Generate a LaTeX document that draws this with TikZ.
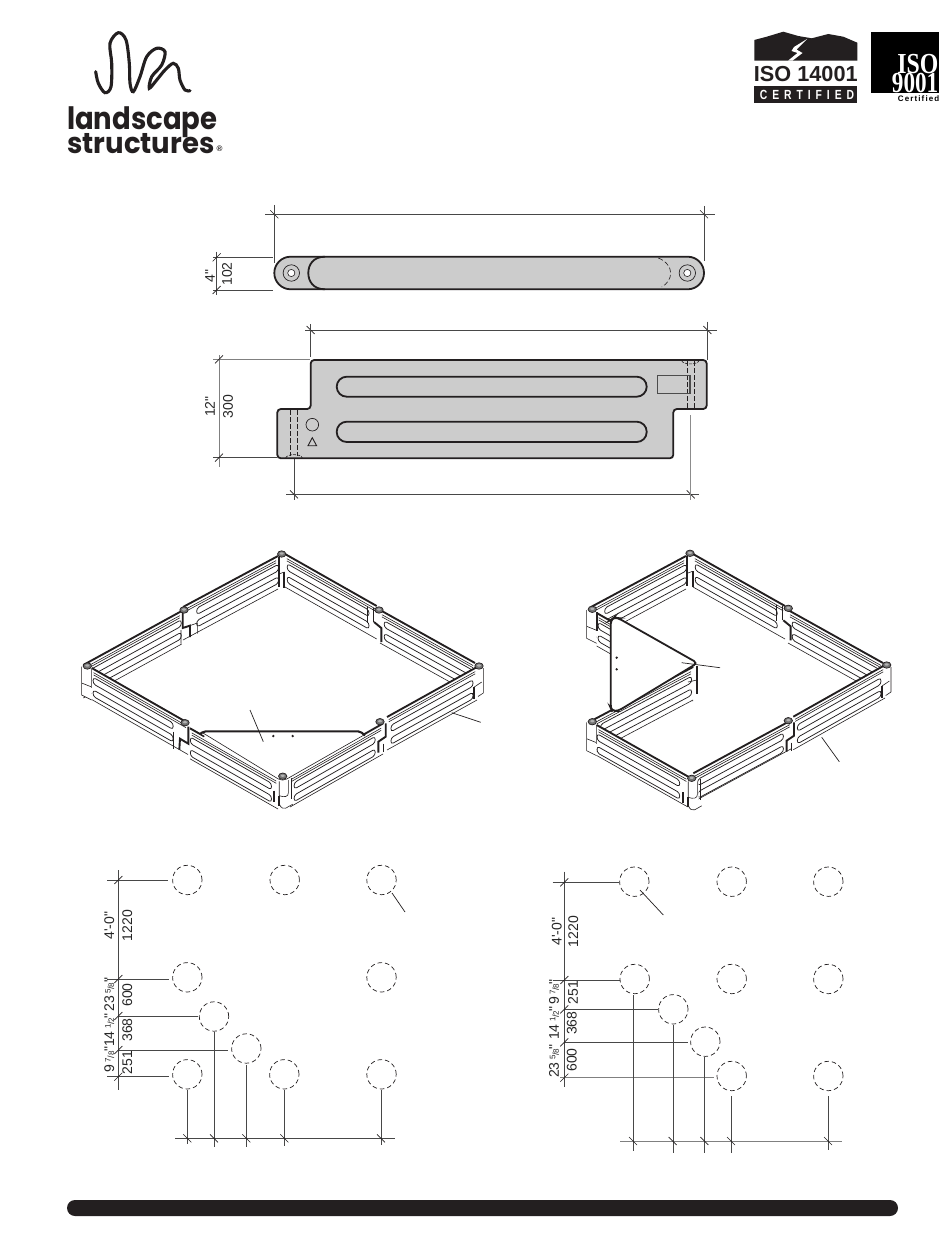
\documentclass[tikz,border=0pt]{standalone}
\usepackage{fontspec}
\setmainfont{Liberation Sans}
\newfontfamily\dimf{Liberation Sans}
\newfontfamily\isof{Liberation Sans}[BoldFont={Liberation Sans Bold}]
\newfontfamily\serf{Liberation Serif}[BoldFont={Liberation Serif Bold}]
\newfontfamily\logof{Poppins}[BoldFont={Poppins Bold}]
\definecolor{ink}{HTML}{231F20}
\definecolor{plate}{HTML}{CCCCCC}
\tikzset{
  dimline/.style={draw=black!72,line width=.65pt},
  outl/.style={draw=ink,line width=1.8pt,fill=plate},
  outb/.style={draw=ink,line width=1.8pt},
  hid/.style={draw=ink,line width=.8pt,dash pattern=on 4.5pt off 2.5pt},
  foot/.style={draw=ink,line width=.7pt,dash pattern=on 4.5pt off 3pt},
  thn/.style={draw=ink,line width=.6pt},
  thk/.style={draw=ink,line width=1.9pt},
  lbl/.style={inner sep=0pt,rotate=90,font=\dimf\fontsize{14}{14}\selectfont,text=black!85},
}
\newcommand\tkh[2]{\draw[dimline,draw=ink] ({#1-4},{#2-4}) -- ({#1+4},{#2+4});}
\newcommand\tkv[2]{\draw[dimline,draw=ink] ({#1-4},{#2+4}) -- ({#1+4},{#2-4});}
\newcommand\frc[2]{\raisebox{3.5pt}{\fontsize{8}{8}\selectfont #1}\hspace{-.3pt}{\fontsize{9}{9}\selectfont/}\hspace{-.3pt}{\fontsize{8}{8}\selectfont #2}}
\def\pnh{30.5}\def\psh{0}
% isometric panel: top edge A->B, slots from u=#5 to u=#6; height \pnh, slot shift \psh
\newcommand\isopanel[6]{%
 \pgfmathsetmacro\pdx{#3-#1}\pgfmathsetmacro\pdy{#4-#2}%
 \begin{scope}[shift={(#1,#2)},x={(\pdx pt,-\pdy pt)},y={(0pt,-1pt)}]
  \fill[white] (0,0)--(1,0)--(1,\pnh)--(0,\pnh)--cycle;
  \draw[thn] (0,\pnh)--(1,\pnh);
  \draw[thn] (.02,3.6)--(.98,3.6) (.02,5.8)--(.98,5.8);
  \foreach \va/\vb in {8.5/15,21/27.5}{
   \pgfmathsetmacro\vaa{\va+\psh}\pgfmathsetmacro\vbb{\vb+\psh}
   \draw[thn,line width=.75pt] (#5,\vaa)--(#6,\vaa) .. controls ({#6+.035},\vaa) and ({#6+.035},\vbb) .. (#6,\vbb) -- (#5,\vbb) .. controls ({#5-.035},\vbb) and ({#5-.035},\vaa) .. (#5,\vaa) -- cycle;}
  \draw[thk] (0,0)--(1,0);
 \end{scope}}
\newcommand\postcap[2]{\draw[fill=black!55,draw=ink,line width=.7pt] (#1,#2) ellipse (4.2pt and 3.2pt); \fill[black!30] (#1,{#2-.5}) ellipse (2pt and 1.2pt);}
\newcommand\jA[2]{\begin{scope}[shift={(#1,#2)}]
  \draw[thk] (-1.3,1.3)--(-1.3,18)--(6,15.6)--(6,27); \draw[thn] (-3,20)--(-3,33.7) (13.3,13)--(13.3,23.7) (6,15.6)--(13.3,13);\end{scope}\postcap{#1}{#2}}
\newcommand\jB[2]{\begin{scope}[shift={(#1,#2)}]
  \draw[thk] (-3,3)--(-3,33) (2.7,18)--(2.7,34); \draw[thn] (-3,20)--(2.7,18);\end{scope}\postcap{#1}{#2}}
\newcommand\jC[2]{\begin{scope}[shift={(#1,#2)}]
  \draw[thn] (-6,-2)--(-6,12) (-12,-3)--(-12,13);\draw[thk] (-5,12)--(2.3,18)--(2.3,32);\end{scope}\postcap{#1}{#2}}
\newcommand\jD[2]{\begin{scope}[shift={(#1,#2)}]
  \draw[thk] (3.3,4)--(3.3,21)--(-5,16)--(-5.7,27); \draw[thn] (-11.7,9)--(-11.7,26);\end{scope}\postcap{#1}{#2}}
\newcommand\jE[2]{\begin{scope}[shift={(#1,#2)}]
  \fill[white] (-4.3,3)--(7,3)--(7,26)--(3,31.5)--(-4.3,29)--cycle;
  \draw[thk] (-3.5,19)--(-3.5,29) (-8.5,14)--(-8.5,25);
  \draw[thn] (-3.5,3)--(-3.5,19) (5.7,3)--(5.7,16) .. controls (5.7,20) and (2,21) .. (-3.5,19);
  \draw[thn] (-3.5,27) .. controls (-2,31.5) and (1,32.5) .. (3,31.5) -- (10,27.5);
  \draw[thn] (9,1)--(9,22);
  \end{scope}\postcap{#1}{#2}}
\newcommand\jF[2]{\begin{scope}[shift={(#1,#2)}]
  \draw[thk] (5.7,1.7)--(5.7,15)--(-1.7,20)--(-1.7,31); \draw[thn] (3,22)--(3,30);\end{scope}\postcap{#1}{#2}}
\newcommand\jG[2]{\begin{scope}[shift={(#1,#2)}]
  \fill[white] (-4.7,18)--(4.3,12)--(4.3,27)--(-4.7,33)--cycle;
  \draw[thn] (4.3,2)--(4.3,27) -- (-1,30.5);
  \draw[thn] (-4.7,21)--(2.7,16);
  \draw[thk] (-4.7,21)--(-4.7,32.7);\end{scope}\postcap{#1}{#2}}
\newcommand\jL[2]{\begin{scope}[shift={(#1,#2)}]
  \fill[white] (-5.7,.7)--(4.3,.7)--(4.3,34)--(-5.7,29)--cycle;
  \draw[thn] (-5.7,.7)--(-5.7,29)--(4.3,34) (-5.7,17)--(4.3,21);
  \draw[thk] (4.3,3)--(4.3,22);\end{scope}\postcap{#1}{#2}}
\begin{document}
\begin{tikzpicture}[x=1pt,y=-1pt]
\useasboundingbox (0,0) rectangle (950,1241);
\fill[white] (0,0) rectangle (950,1241);

%% ---------- logo
\draw[ink,line width=3.1pt,line cap=round] plot[smooth,tension=.55] coordinates{
 (95.7,71.7)(98.3,83.3)(105,92.7)(111,86.7)(111.7,63.3)(110,43.3)(118.3,32.7)(126,40)(129.3,63.3)(130,83.3)(133.3,91.7)(140,76.7)(146.7,56.7)(156.7,48.3)(165,51.7)(161.7,65)(151.7,76.7)(149.3,88.3)(156.7,80)(165,70)(173.3,63.3)(178.3,68.3)(180,80)(185,90)(190,90.7)};
\node[anchor=base west,inner sep=0pt,text=ink] (logoa) at (67,129.5) {\scalebox{1}[1.12]{\logof\bfseries\fontsize{27.5}{28}\selectfont landscape}};
\node[anchor=base west,inner sep=0pt,text=ink] (logob) at (67,153.5) {\scalebox{1}[1.05]{\logof\bfseries\fontsize{27.5}{28}\selectfont structures}};
\node[anchor=base west,inner sep=0pt,text=ink] (logoc) at (216.5,151.5) {\isof\bfseries\fontsize{8}{8}\selectfont ®};

%% ---------- ISO 14001
\fill[ink] (754.3,40)--(766.7,36.7)--(783.3,31.7)--(798.3,36)--(811.7,38.3)--(828.3,34)--(843.3,36.7)--(857.3,42.7)--(857.3,60.7)--(754.3,60.7)--cycle;
\fill[white] (807,39)--(794,47)--(791.5,51)--(797.5,53)--(788,60.7)--(792.5,60.7)--(802.5,53)--(796.5,49.5)--cycle;
\node[anchor=base,inner sep=0pt,text=ink] (isoa) at (805.8,81.5) {\isof\bfseries\fontsize{21.7}{23}\selectfont ISO 14001};
\fill[ink] (754.3,86) rectangle (857.3,103.3);
\node[inner sep=0pt,text=white] (isob) at (807,94.7) {\scalebox{.9}[1.15]{\isof\bfseries\addfontfeature{LetterSpace=48}\fontsize{11.5}{12}\selectfont CERTIFIED}};
%% ---------- ISO 9001
\fill[black] (871,32.3) rectangle (939,93.3);
\node[anchor=base east,inner sep=0pt,text=white] (isoc) at (938.5,73.3) {\scalebox{.82}[1]{\serf\bfseries\fontsize{29}{30}\selectfont ISO}};
\node[anchor=base east,inner sep=0pt,text=white] (isod) at (938.5,93) {\scalebox{.8}[1]{\serf\bfseries\fontsize{29}{30}\selectfont 9001}};
\node[anchor=base east,inner sep=0pt,text=black] (isoe) at (939.5,102) {\isof\bfseries\addfontfeature{LetterSpace=14}\fontsize{8}{9}\selectfont Certified};

%% ---------- top bar
\draw[dimline] (265,214.3)--(715,214.3);
\tkh{274.3}{214.3}\tkh{704}{214.3}
\draw[dimline] (274.3,205)--(274.3,263) (704,206)--(704,261);
\draw[dimline] (216.7,251.7)--(216.7,295) (213,257.3)--(273,257.3) (213,290)--(273,290);
\tkv{216.7}{257.3}\tkv{216.7}{290}
\draw[outl,rounded corners=16.3pt] (274.3,256.7) rectangle (704,289.3);
\draw[outb] (325,256.7) .. controls (313,256.7) and (308.3,265) .. (308.3,273) .. controls (308.3,281) and (313,289.3) .. (325,289.3);
\draw[thn,dash pattern=on 5pt off 2.5pt] (658.3,258) .. controls (666,261) and (670.7,267) .. (670.7,273) .. controls (670.7,279) and (667,284) .. (661.7,287);
\foreach \cx in {291.3,687.3}{
 \draw[thn,line width=.7pt] (\cx,273) circle (8.2pt);
 \draw[thn,fill=white] (\cx,273) circle (3.6pt);}
\node[lbl] (t4in) at (210,276) {4"};
\node[lbl] (t102) at (227,274) {102};

%% ---------- top plate
\draw[dimline] (305,330)--(716.7,330);
\tkh{310.7}{330}\tkh{707.3}{330}
\draw[dimline] (310.7,324)--(310.7,357) (707.3,321.7)--(707.3,360);
\draw[dimline] (286,494.3)--(699.3,494.3);
\tkh{294}{494.3}\tkh{690.7}{494.3}
\draw[dimline] (294,459)--(294,500);
\draw[dimline,draw=black!45] (690.7,415)--(690.7,500);
\draw[dimline,draw=black!50] (219,355)--(219,466.7) (213,359.3)--(310,359.3);
\draw[dimline] (213,457.7)--(277,457.7);
\tkv{219}{359.3}\tkv{219}{457.7}
\draw[outl,rounded corners=3.5pt] (310.7,360)--(706.7,360)--(706.7,409)--(673.3,409)--(673.3,458.3)--(277.3,458.3)--(277.3,409)--(310.7,409)--cycle;
\draw[outb,rounded corners=10pt] (336.7,376.7) rectangle (646.7,396.7);
\draw[outb,rounded corners=10pt] (336.7,421.7) rectangle (646.7,442);
\draw[thn,line width=.7pt] (312.3,424.7) circle (6.3pt);
\draw[thn,line width=.9pt] (312.3,437.7)--(316.6,445.7)--(308,445.7)--cycle;
\draw[hid] (290.7,410)--(290.7,456) (297.7,410)--(297.7,456);
\draw[thn,dash pattern=on 3pt off 1.2pt] (285.7,458) .. controls (287,453.5) and (301,453.5) .. (302.3,458);
\draw[hid] (687.3,361)--(687.3,408) (694,361)--(694,408);
\draw[thn,dash pattern=on 3pt off 1.2pt] (681.7,360.7) .. controls (683,365) and (697.5,365) .. (699,360.7);
\draw[draw=black!70,line width=1.2pt] (657.3,375.7) rectangle (690,393.3);
\node[lbl] (t12in) at (210,406.7) {12"};
\node[lbl] (t300) at (228,406.7) {300};

%% ---------- left iso frame
\def\pnh{33}
\isopanel{83.3}{665}{181.7}{611}{.1}{.97}
\isopanel{183}{607}{278}{556}{.17}{.98}
\isopanel{285}{554}{376.7}{606}{.05}{.89}
\isopanel{380}{610}{475}{663}{.07}{.95}
\jA{184}{610}\jB{281.7}{554}\jC{379}{610}
\jL{87.3}{666}
\def\pnh{31.5}
\isopanel{91.7}{668}{188}{723}{.04}{.82}
\def\pnh{30.5}
\isopanel{190}{728.3}{278}{778.5}{.03}{.9}
\isopanel{290}{776.5}{383}{723.5}{.07}{.89}
\def\pnh{33}\def\psh{2}
\isopanel{387}{717}{477}{667}{.07}{.93}
\def\pnh{30.5}\def\psh{0}
\jD{185}{722.7}\jE{282.7}{776.7}\jF{380}{721.7}\jG{479}{666}
% corner plate: thick back edge, thin edges on the panels
\fill[white,rounded corners=2.5pt] (204,731.3)--(360,731.3)--(365,736)--(285,781)--(279,781)--(200,733)--cycle;
\draw[white,line width=2.6pt] (204.5,736.5)--(280,780.5) (284.5,780.5)--(361,737.5);
\draw[thn,rounded corners=2pt] (203,733)--(280,780)--(285,780)--(364,735);
\draw[thk,line width=2.1pt,rounded corners=2pt] (200,734)--(204,731.3)--(360,731.3)--(365,735.5);
\postcap{282.7}{776.2}
\fill[ink] (273.3,736) circle (1.3pt) (292.7,736) circle (1.3pt);
\draw[thn,line width=.7pt] (250,710)--(263.3,741.7);
\draw[thn,line width=.7pt] (451.7,712.7)--(480.7,722.3);

%% ---------- right iso frame
\def\pnh{33}
\isopanel{591}{607}{686}{556}{.17}{.98}
\isopanel{693}{554}{785}{606}{.05}{.89}
\isopanel{788}{610}{883}{663}{.07}{.95}
\jB{690}{553.3}\jC{788.3}{608.3}
\isopanel{596.7}{613}{693}{668}{.04}{.82}
\jL{592.3}{609.3}
\isopanel{593}{720}{693}{667}{.1}{.96}
\draw[thk] (697,666)--(697,694);
\draw[thn] (688,682)--(697,680);
\jL{592.3}{721.7}
\def\pnh{30.5}
\isopanel{596.7}{725}{688.3}{776.7}{.03}{.88}
\def\pnh{28.5}
\isopanel{693.3}{773.3}{791.7}{720}{.07}{.89}
\def\pnh{33}\def\psh{2}
\isopanel{793.3}{716.7}{885}{665}{.07}{.93}
\def\pnh{30.5}\def\psh{0}
\jE{691.7}{778.3}\jF{788.3}{720.7}\jG{886.7}{665}
\draw[draw=ink,line width=1.8pt,rounded corners=4pt,fill=white] (610.7,620)--(614,617.5)--(618,618)--(697.5,663)--(618,711)--(612,711)--(610.7,708)--cycle;
\fill[ink] (616.7,657.7) circle (1.3pt) (616.7,669.3) circle (1.3pt);
\draw[thn,line width=.7pt] (681.7,662.7)--(720,667.7);
\draw[thn,line width=.7pt] (821.7,737.3)--(839.3,761.7);

%% ---------- left footing plan
\draw[dimline] (118.3,870)--(118.3,1090);
\draw[dimline] (107,880)--(168.3,880) (107,979)--(169,979) (118.3,1016)--(198,1016) (118.3,1050)--(228,1050) (107,1076.7)--(169,1076.7);
\foreach \yy in {880,979,1016,1050,1076.7}{\tkv{118.3}{\yy}}
\draw[dimline] (175,1138.3)--(395,1138.3);
\draw[dimline] (187.3,1090)--(187.3,1144) (214,1032)--(214,1147) (246.3,1065)--(246.3,1147) (284.3,1090)--(284.3,1146) (381,1090)--(381,1145);
\foreach \xx in {187.3,214,246.3,284.3,381}{\tkh{\xx}{1138.3}}
\foreach \cx/\cy in {187.3/880,284.7/880,381.5/880,187.3/977.3,381.5/977.3,187.3/1074.3,284.3/1074.3,381.5/1074.3,214/1016.5,246.3/1048.5}{
 \draw[foot] (\cx,\cy) circle (14.7pt);}
\draw[thn,line width=.7pt] (392,893)--(405,912);
\node[lbl] (l40) at (109.3,925.7) {4'-0"};
\node[lbl] (l1220) at (127.3,925.7) {1220};
\node[lbl] (l600) at (127.3,995) {600};
\node[lbl] (l368) at (127.3,1030) {368};
\node[lbl] (l251) at (127.3,1062.7) {251};
\node[lbl] (l235) at (109.3,994.5) {23\,\frc{5}{8}"};
\node[lbl] (l145) at (109.3,1030) {14\,\frc{1}{2}"};
\node[lbl] (l98) at (109.3,1059.5) {9\,\frc{7}{8}"};

%% ---------- right footing plan
\draw[dimline] (564.3,871.7)--(564.3,1087.3);
\draw[dimline] (552.7,882.3)--(619.3,882.3) (553,980)--(620,980) (564.3,1009.3)--(658.3,1009.3) (564.3,1042.3)--(687.7,1042.3);
\draw[dimline,draw=black!50] (560,1077.7)--(714.3,1077.7);
\foreach \yy in {882.3,980,1009.3,1042.3,1077.7}{\tkv{564.3}{\yy}}
\draw[dimline,draw=black!50] (620,1141)--(842,1141);
\draw[dimline] (633.5,995)--(633.5,1151) (673,1025)--(673,1153) (704.5,1057)--(704.5,1153) (731,1096)--(731,1153) (828,1096)--(828,1150);
\foreach \xx in {633,672.7,704.3,731,828}{\tkh{\xx}{1141}}
\foreach \cx/\cy in {634.3/881.7,731.7/881.7,828.3/881.7,634.7/979,731.7/979,828.3/979,673.3/1009.3,705.3/1041.7,731.7/1076,828.3/1076}{
 \draw[foot] (\cx,\cy) circle (14.7pt);}
\draw[thn,line width=.7pt] (640,890)--(663.3,915);
\node[lbl] (r40) at (556.7,931.7) {4'-0"};
\node[lbl] (r1220) at (573.3,931.7) {1220};
\node[lbl] (r251) at (573,992.7) {251};
\node[lbl] (r368) at (571.7,1023.3) {368};
\node[lbl] (r600) at (571.7,1060) {600};
\node[lbl] (r98) at (554,992) {9\,\frc{7}{8}"};
\node[lbl] (r145) at (554,1023) {14\,\frc{1}{2}"};
\node[lbl] (r235) at (554,1061) {23\,\frc{5}{8}"};

%% ---------- bottom bar
\fill[ink,rounded corners=8pt] (67,1200) rectangle (898,1216);
\end{tikzpicture}
\end{document}
